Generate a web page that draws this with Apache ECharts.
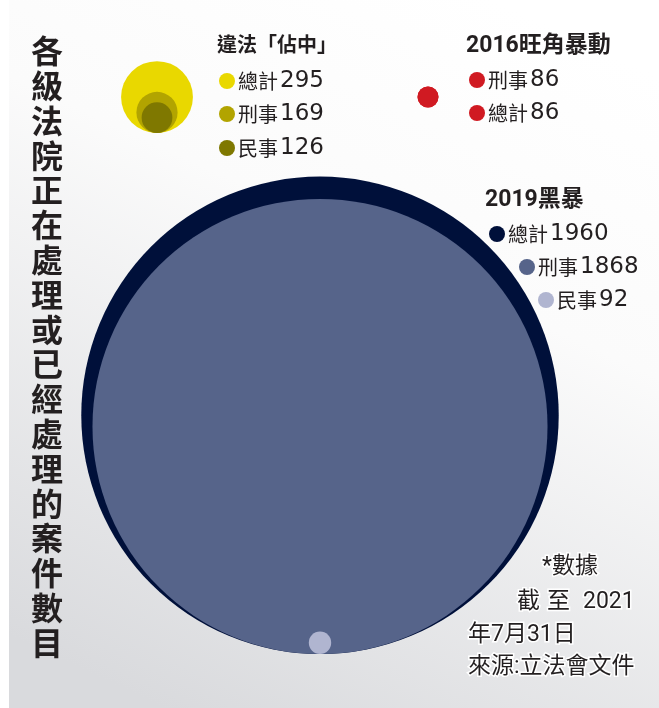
<!DOCTYPE html>
<html>
<head>
<meta charset="utf-8">
<script src="https://cdn.jsdelivr.net/npm/echarts@6/dist/echarts.min.js"></script>
<style>
  html, body { margin: 0; padding: 0; background: #fff; }
  #chart { width: 659px; height: 708px; }
</style>
</head>
<body>
<div id="chart"></div>
<script>
// data
var title = '各級法院正在處理或已經處理的案件數目';
var groupNames = ['違法「佔中」', '2016旺角暴動', '2019黑暴'];
var occupyLabels = ['總計', '刑事', '民事'];
var occupyValues = [295, 169, 126];
var mongkokLabels = ['刑事', '總計'];
var mongkokValues = [86, 86];
var riotLabels = ['總計', '刑事', '民事'];
var riotValues = [1960, 1868, 92];
var noteLines = ['*數據', '截 至 2021', '年7月31日', '來源:立法會文件'];

// layout / style
var W = 659, H = 708;
var K = 0.1218; // radius in px per case
var CJK = '"Noto Sans CJK TC", "Noto Sans CJK SC", sans-serif';
var groups = [
  {name: groupNames[0], labels: occupyLabels, values: occupyValues,
   colors: ['#e9d800', '#b2a400', '#7f7800'], cx: 157, bottom: 133,
   titlePos: [217, 47], titleSize: 20,
   items: [[227, 81], [227, 114], [227, 148]]},
  {name: groupNames[1], labels: mongkokLabels, values: mongkokValues,
   colors: ['#d01a22', '#d01a22'], cx: 428, bottom: 107.5,
   titlePos: [466, 46], titleSize: 23,
   items: [[477, 80], [477, 113]]},
  {name: groupNames[2], labels: riotLabels, values: riotValues,
   colors: ['#00103a', '#56648a', '#b0b5d0'], cx: 320, bottom: 654,
   titlePos: [485, 200], titleSize: 23,
   items: [[497, 234], [527, 267], [546, 300]]}
];

var series = [];
var graphic = [
  {type: 'rect', shape: {x: 0, y: 0, width: 9, height: H}, style: {fill: '#fff'}, z: 0},
  // vertical title as one block, one character per line
  {type: 'text', x: 47, y: 33.6, z: 10,
   style: {text: title.split('').join('\n'), font: 'bold 32px ' + CJK, fill: '#231f20',
           lineHeight: 34.8, align: 'center', verticalAlign: 'top'}}
];

groups.forEach(function (g) {
  g.values.forEach(function (v, i) {
    series.push({
      type: 'scatter',
      name: g.name + g.labels[i],
      silent: true,
      z: 2 + i,
      symbolSize: function (val) { return 2 * K * val[2]; },
      itemStyle: {color: g.colors[i], opacity: 1},
      data: [[g.cx, g.bottom - K * v, v]]
    });
    var p = g.items[i];
    graphic.push({type: 'circle', shape: {cx: p[0], cy: p[1], r: 8}, style: {fill: g.colors[i]}, z: 10});
    graphic.push({type: 'text', x: p[0] + 11, y: p[1], z: 10,
      style: {text: '{a|' + g.labels[i] + '}{b|' + v + '}', verticalAlign: 'middle',
        rich: {
          a: {font: '20px ' + CJK, fill: '#231f20'},
          b: {font: '23px "DejaVu Sans", sans-serif', fill: '#231f20', padding: [0, 0, 0, 2]}
        }}});
  });
  graphic.push({type: 'text', x: g.titlePos[0], y: g.titlePos[1], z: 10,
    style: {text: g.name, font: 'bold ' + g.titleSize + 'px Roboto, ' + CJK, fill: '#231f20', verticalAlign: 'middle'}});
});

// footnote, white halo like the reference
var noteFont = '23px Roboto, ' + CJK;
function note(t, x, y, align) {
  graphic.push({type: 'text', x: x, y: y, z: 10,
    style: {text: t, font: noteFont, fill: '#231f20', align: align || 'left',
            verticalAlign: 'middle', stroke: '#fff', lineWidth: 3}});
}
note(noteLines[0], 542, 567);
var words = noteLines[1].split(' ');
var wordX = [517, 547, 583];
words.forEach(function (w, i) { note(w, wordX[i], 602); });
note(noteLines[2], 468, 635);
note(noteLines[3], 468, 667);

var chart = echarts.init(document.getElementById('chart'));
chart.setOption({
  animation: false,
  backgroundColor: {
    type: 'linear', x: 0.75, y: 0, x2: 0.25, y2: 1,
    colorStops: [{offset: 0, color: '#ffffff'}, {offset: 0.35, color: '#fbfbfb'}, {offset: 1, color: '#d9dadd'}]
  },
  grid: {left: 0, right: 0, top: 0, bottom: 0},
  xAxis: {type: 'value', min: 0, max: W, show: false},
  yAxis: {type: 'value', min: 0, max: H, inverse: true, show: false},
  series: series,
  graphic: graphic
});
</script>
</body>
</html>
